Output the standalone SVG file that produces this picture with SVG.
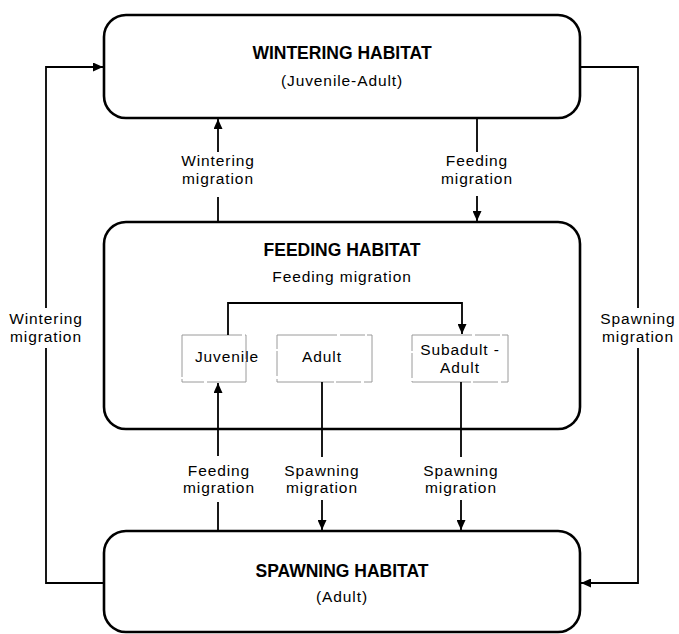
<svg xmlns="http://www.w3.org/2000/svg" width="679" height="634" viewBox="0 0 679 634">
<style>
.hab{fill:#fff;stroke:#000;stroke-width:2.6}
.sub{fill:#fff;stroke:#9a9a9a;stroke-width:1;stroke-dasharray:60 3 25 2}
.c{fill:none;stroke:#000;stroke-width:1.8}
text{font-family:"Liberation Sans",Arial,Helvetica,sans-serif;font-size:15.5px;letter-spacing:0.9px;fill:#000;text-anchor:middle}
.b{font-weight:bold;font-size:17.5px;letter-spacing:0}
</style>
<defs>
<marker id="ah" markerUnits="userSpaceOnUse" markerWidth="10" markerHeight="9" refX="10" refY="4.5" orient="auto">
<path d="M0,0 L10,4.5 L0,9 z" fill="#000"/>
</marker>
</defs>
<g id="wintering">
<rect class="hab" x="104" y="15" width="476" height="103" rx="22"/>
<text class="b" x="342" y="59">WINTERING HABITAT</text>
<text x="342" y="86">(Juvenile-Adult)</text>
</g>
<g id="feeding">
<rect class="hab" x="104" y="222" width="476" height="207" rx="22"/>
<text class="b" x="342" y="256">FEEDING HABITAT</text>
<text x="342" y="282">Feeding migration</text>
</g>
<g id="juvenile">
<rect class="sub" x="182" y="335" width="64" height="47"/>
<text x="227" y="362">Juvenile</text>
</g>
<g id="adult">
<rect class="sub" x="277" y="335" width="95" height="47"/>
<text x="322" y="362">Adult</text>
</g>
<g id="subadult">
<rect class="sub" x="412" y="335" width="96" height="47"/>
<text x="460" y="355">Subadult -</text>
<text x="460" y="372.5">Adult</text>
</g>
<g id="spawning">
<rect class="hab" x="104" y="531" width="476" height="101" rx="22"/>
<text class="b" x="342" y="577">SPAWNING HABITAT</text>
<text x="342" y="602">(Adult)</text>
</g>
<g id="connectors">
<path class="c" d="M218,222 V197"/>
<path class="c" d="M218,152 V119" marker-end="url(#ah)"/>
<text x="218" y="166">Wintering</text>
<text x="218" y="183.5">migration</text>
<path class="c" d="M477,118 V152"/>
<path class="c" d="M477,196 V221" marker-end="url(#ah)"/>
<text x="477" y="166">Feeding</text>
<text x="477" y="183.5">migration</text>
<path class="c" d="M228,335 V303 H462 V334" marker-end="url(#ah)"/>
<path class="c" d="M218,530 V502"/>
<path class="c" d="M218,456 V383" marker-end="url(#ah)"/>
<text x="219" y="475.5">Feeding</text>
<text x="219" y="493">migration</text>
<path class="c" d="M322,382 V457"/>
<path class="c" d="M322,500 V530" marker-end="url(#ah)"/>
<text x="322" y="475.5">Spawning</text>
<text x="322" y="493">migration</text>
<path class="c" d="M461,382 V457"/>
<path class="c" d="M461,500 V530" marker-end="url(#ah)"/>
<text x="461" y="475.5">Spawning</text>
<text x="461" y="493">migration</text>
<path class="c" d="M104,583 H46 V348"/>
<path class="c" d="M46,308 V67 H103" marker-end="url(#ah)"/>
<text x="46" y="324">Wintering</text>
<text x="46" y="341.5">migration</text>
<path class="c" d="M580,67 H638 V308"/>
<path class="c" d="M638,348 V583 H581" marker-end="url(#ah)"/>
<text x="638" y="324">Spawning</text>
<text x="638" y="341.5">migration</text>
</g>
</svg>
